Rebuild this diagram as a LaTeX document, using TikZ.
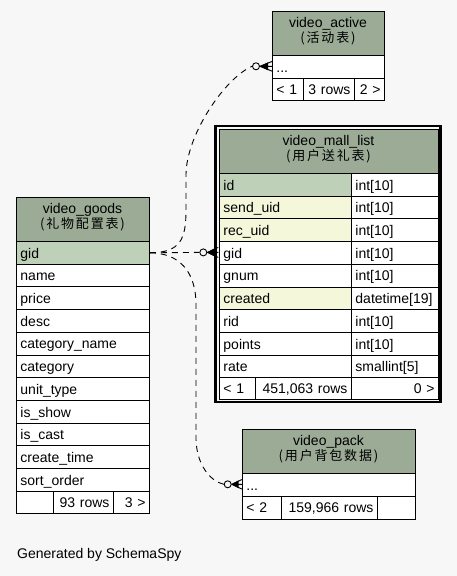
\documentclass[tikz,border=0pt]{standalone}
\usepackage{fontspec}
\setmainfont{Liberation Sans}
\newfontfamily\cjkfam[LetterSpace=14]{Noto Sans CJK SC}
\newcommand\rowfont{\fontsize{14}{16}\selectfont}
\newcommand\cjkfont{\cjkfam\fontsize{13}{15}\selectfont}
\definecolor{bgc}{HTML}{F7F7F7}
\definecolor{hdc}{HTML}{9BAB96}
\definecolor{pkc}{HTML}{BED1B8}
\definecolor{ixc}{HTML}{F4F7DA}
\tikzset{
 cellbase/.style={draw=black, line width=0.9pt, inner xsep=4pt, inner ysep=0pt, anchor=north west, text height=10.6pt, text depth=0pt, font=\rowfont},
 hdr/.style={draw=black, line width=0.9pt, fill=hdc, inner sep=0pt, anchor=north west},
 ttl/.style={anchor=base, inner sep=0pt, font=\rowfont},
 cjkttl/.style={anchor=center, inner sep=0pt, font=\cjkfont},
 edge/.style={line width=0.9pt, dash pattern=on 6pt off 5pt},
 optc/.style={circle, draw=black, line width=0.9pt, fill=bgc, minimum size=7pt, inner sep=0pt},
 note/.style={anchor=base west, inner sep=0pt, font=\rowfont},
}
% name, x, y, width, height, fill, align, text
\newcommand\tcell[8]{%
 \pgfmathsetlengthmacro\tw{#4pt-8pt}%
 \node[cellbase, fill=#6, align=#7, text width=\tw, minimum height=#5pt] (#1) at (#2,#3) {#8};}
% crow's foot from a circle node, length
\newcommand\crowf[2]{%
 \fill (#1.east) -- ++(#2*0.65,-4) -- ++(0,8) -- cycle;
 \draw[line width=0.9pt] (#1.east) -- ++(#2,-5) (#1.east) -- ++(#2,5) (#1.east) -- ++(#2,0);}
\begin{document}
\begin{tikzpicture}[x=1pt,y=-1pt]
\fill[bgc] (0,0) rectangle (457,576);
\useasboundingbox (0,0) rectangle (457,576);

% ---------- video_goods ----------
\node[hdr, minimum width=133pt, minimum height=44pt] (g-h) at (16,197) {};
\node[ttl] (g-t1) at (82.5,213.3) {video\_goods};
\node[cjkttl] (g-t2) at (82.5,224) {(礼物配置表)};
\tcell{g-gid}{16}{241.0}{133}{22.7}{pkc}{left}{gid}
\tcell{g-name}{16}{263.7}{133}{22.7}{white}{left}{name}
\tcell{g-price}{16}{286.4}{133}{22.7}{white}{left}{price}
\tcell{g-desc}{16}{309.1}{133}{22.7}{white}{left}{desc}
\tcell{g-catn}{16}{331.8}{133}{22.7}{white}{left}{category\_name}
\tcell{g-cat}{16}{354.5}{133}{22.7}{white}{left}{category}
\tcell{g-unit}{16}{377.2}{133}{22.7}{white}{left}{unit\_type}
\tcell{g-show}{16}{399.9}{133}{22.7}{white}{left}{is\_show}
\tcell{g-cast}{16}{422.6}{133}{22.7}{white}{left}{is\_cast}
\tcell{g-ctime}{16}{445.3}{133}{22.7}{white}{left}{create\_time}
\tcell{g-sort}{16}{468.0}{133}{22.7}{white}{left}{sort\_order}
\tcell{g-f1}{16}{490.7}{37}{22.6}{white}{left}{}
\tcell{g-f2}{53}{490.7}{60}{22.6}{white}{right}{93 rows}
\tcell{g-f3}{113}{490.7}{36}{22.6}{white}{right}{3 >}

% ---------- connectors ----------
\node[optc] (c1) at (203.3,252.4) {};
\node[optc] (c2) at (256,66.3) {};
\node[optc] (c3) at (227.7,484.3) {};
\draw[edge] (g-gid.east) -- (c1.west);
\draw[edge] (g-gid.east) .. controls (180,252.5) and (186,240) .. (186,210) -- (186,175) .. controls (186,135) and (225,78) .. (c2.west);
\draw[edge] (g-gid.east) .. controls (178,253) and (196,270) .. (196,305) -- (196,440) .. controls (197,465) and (210,481) .. (c3.west);
\crowf{c1}{11}
\crowf{c2}{12.5}
\crowf{c3}{10.8}

% ---------- video_active ----------
\node[hdr, minimum width=112pt, minimum height=44pt] (a-h) at (272,11) {};
\node[ttl] (a-t1) at (328,27.3) {video\_active};
\node[cjkttl] (a-t2) at (328,38) {(活动表)};
\tcell{a-more}{272}{55}{112}{22.6}{white}{left}{...}
\tcell{a-f1}{272}{77.6}{31}{22}{white}{left}{< 1}
\tcell{a-f2}{303}{77.6}{51}{22}{white}{right}{3 rows}
\tcell{a-f3}{354}{77.6}{30}{22}{white}{right}{2 >}

% ---------- video_mall_list ----------
\node[hdr, minimum width=219pt, minimum height=44pt] (m-h) at (219,129) {};
\node[ttl] (m-t1) at (328.5,145.3) {video\_mall\_list};
\node[cjkttl] (m-t2) at (328.5,156) {(用户送礼表)};
\tcell{m-id}{219}{173.0}{132}{22.7}{pkc}{left}{id}
\tcell{m-idt}{351}{173.0}{87}{22.7}{white}{left}{int[10]}
\tcell{m-send}{219}{195.7}{132}{22.7}{ixc}{left}{send\_uid}
\tcell{m-sendt}{351}{195.7}{87}{22.7}{white}{left}{int[10]}
\tcell{m-rec}{219}{218.4}{132}{22.7}{ixc}{left}{rec\_uid}
\tcell{m-rect}{351}{218.4}{87}{22.7}{white}{left}{int[10]}
\tcell{m-gid}{219}{241.1}{132}{22.7}{white}{left}{gid}
\tcell{m-gidt}{351}{241.1}{87}{22.7}{white}{left}{int[10]}
\tcell{m-gnum}{219}{263.8}{132}{22.7}{white}{left}{gnum}
\tcell{m-gnumt}{351}{263.8}{87}{22.7}{white}{left}{int[10]}
\tcell{m-cre}{219}{286.5}{132}{22.7}{ixc}{left}{created}
\tcell{m-cret}{351}{286.5}{87}{22.7}{white}{left}{datetime[19]}
\tcell{m-rid}{219}{309.2}{132}{22.7}{white}{left}{rid}
\tcell{m-ridt}{351}{309.2}{87}{22.7}{white}{left}{int[10]}
\tcell{m-pts}{219}{331.9}{132}{22.7}{white}{left}{points}
\tcell{m-ptst}{351}{331.9}{87}{22.7}{white}{left}{int[10]}
\tcell{m-rate}{219}{354.6}{132}{22.7}{white}{left}{rate}
\tcell{m-ratet}{351}{354.6}{87}{22.7}{white}{left}{smallint[5]}
\tcell{m-f1}{219}{377.3}{36}{21.8}{white}{left}{< 1}
\tcell{m-f2}{255}{377.3}{96}{21.8}{white}{right}{451,063 rows}
\tcell{m-f3}{351}{377.3}{87}{21.8}{white}{right}{0 >}
\draw[line width=2.4pt] (215.5,126.2) rectangle (440.5,401.8);

% ---------- video_pack ----------
\node[hdr, minimum width=173pt, minimum height=44pt] (p-h) at (242,429) {};
\node[ttl] (p-t1) at (328.5,445.5) {video\_pack};
\node[cjkttl] (p-t2) at (328.5,456.5) {(用户背包数据)};
\tcell{p-more}{242}{473}{173}{22.7}{white}{left}{...}
\tcell{p-f1}{242}{495.7}{39}{22.8}{white}{left}{< 2}
\tcell{p-f2}{281}{495.7}{96}{22.8}{white}{right}{159,966 rows}
\tcell{p-f3}{377}{495.7}{38}{22.8}{white}{left}{}

\node[note] (gen) at (17,558.3) {Generated by SchemaSpy};
\end{tikzpicture}
\end{document}
